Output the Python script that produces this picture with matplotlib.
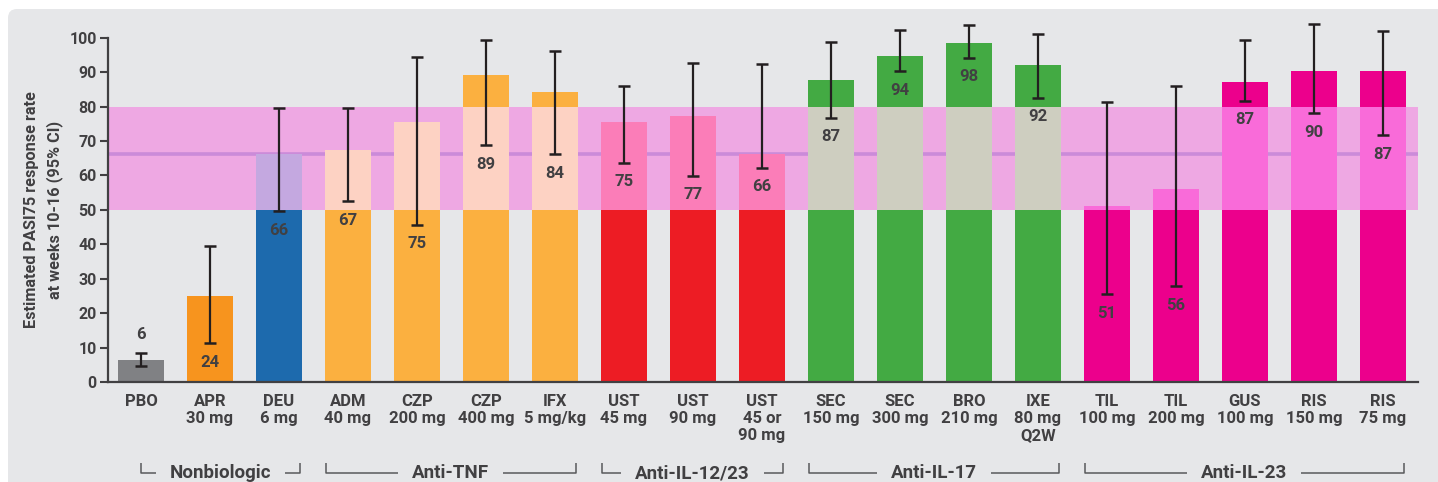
import numpy as np
import matplotlib
matplotlib.use("Agg")
import matplotlib.pyplot as plt
from matplotlib.patches import FancyBboxPatch

plt.rcParams["font.family"] = ["Liberation Sans Narrow", "Roboto", "DejaVu Sans"]
plt.rcParams["font.weight"] = "bold"

# data
treatments = ["PBO", "APR\n30 mg", "DEU\n6 mg", "ADM\n40 mg", "CZP\n200 mg",
              "CZP\n400 mg", "IFX\n5 mg/kg", "UST\n45 mg", "UST\n90 mg",
              "UST\n45 or\n90 mg", "SEC\n150 mg", "SEC\n300 mg", "BRO\n210 mg",
              "IXE\n80 mg\nQ2W", "TIL\n100 mg", "TIL\n200 mg", "GUS\n100 mg",
              "RIS\n150 mg", "RIS\n75 mg"]
bar_height = [6.5, 25.0, 66.3, 67.5, 75.5, 89.2, 84.3, 75.5, 77.2, 66.3,
              87.8, 94.8, 98.5, 92.1, 51.2, 56.2, 87.2, 90.4, 90.2]
value_text = [6, 24, 66, 67, 75, 89, 84, 75, 77, 66,
              87, 94, 98, 92, 51, 56, 87, 90, 87]
ci_low = [4.7, 11.2, 49.6, 52.5, 45.6, 68.8, 66.2, 63.6, 59.9, 62.2,
          76.7, 90.3, 94.1, 82.5, 25.5, 27.8, 81.6, 78.1, 71.7]
ci_high = [8.5, 39.4, 79.6, 79.6, 94.4, 99.3, 96.1, 86.0, 92.6, 92.3,
           98.8, 102.2, 103.8, 101.1, 81.3, 86.0, 99.3, 104.0, 102.0]

groups = ["Nonbiologic", "Anti-TNF", "Anti-IL-12/23", "Anti-IL-17", "Anti-IL-23"]
group_size = [3, 4, 3, 4, 5]

band_low, band_high = 50, 80
ref_line = 66.3

bar_colors = (["#808184", "#F7941E", "#1D6AAD"] + ["#FBB040"] * 4 + ["#ED1C24"] * 3
              + ["#43AA43"] * 4 + ["#EC008C"] * 5)
band_colors = (["#808184", "#F7941E", "#C4A8E0"] + ["#FDD2C3"] * 4 + ["#FB7DB8"] * 3
               + ["#CECEC0"] * 4 + ["#F96BD9"] * 5)

TXT = "#414042"
BG = "#E6E7E9"

fig = plt.figure(figsize=(14.38, 4.82), dpi=100)
fig.patches.append(FancyBboxPatch((0.08, -0.2), 14.6, 4.93,
                                  boxstyle="round,pad=0,rounding_size=0.09",
                                  transform=fig.dpi_scale_trans,
                                  facecolor=BG, edgecolor="none", zorder=-10))

ax = fig.add_axes([108 / 1438, 100 / 482, 1310 / 1438, 361.5 / 482])
ax.set_facecolor("none")

x = np.arange(len(treatments))
vals = np.array(bar_height)
lo = np.array(ci_low)
hi = np.array(ci_high)

ax.axhspan(band_low, band_high, color="#EEA8E3", lw=0, zorder=0)
ax.axhline(ref_line, color="#CB8BD9", lw=2.6, zorder=0.5)

ax.bar(x, vals, width=0.667, color=bar_colors, zorder=1)
inside = vals > band_low
ax.bar(x[inside], np.minimum(vals[inside], band_high) - band_low, bottom=band_low,
       width=0.667, color=np.array(band_colors)[inside], zorder=1.5)

ax.errorbar(x, vals, yerr=[vals - lo, hi - vals], fmt="none", ecolor="#231F20",
            elinewidth=1.6, capsize=4.3, capthick=1.8, zorder=5)

for xi, v, l, h, t in zip(x, vals, lo, hi, value_text):
    y = h + 5.3 if v < 10 else l - 5.5
    ax.text(xi, y, str(t), ha="center", va="center", fontsize=12,
            color=TXT, fontweight="bold", zorder=6)

ax.set_xlim(-0.478, 18.51)
ax.set_ylim(0, 105)
ax.set_yticks(np.arange(0, 101, 10))
ax.set_xticks(x)
ax.set_xticklabels(treatments, linespacing=1.15)
ax.tick_params(axis="x", length=0, pad=9, labelsize=12, labelcolor=TXT)
ax.tick_params(axis="y", length=5.8, width=1.5, pad=2.4, labelsize=11.5,
               labelcolor=TXT, color=TXT)
for lab in ax.get_xticklabels() + ax.get_yticklabels():
    lab.set_fontweight("bold")

for s in ["top", "right"]:
    ax.spines[s].set_visible(False)
for s in ["left", "bottom"]:
    ax.spines[s].set_color(TXT)
    ax.spines[s].set_linewidth(1.6)
ax.spines["left"].set_bounds(0, 100)

fig.text(43.4 / 1438, 1 - 210 / 482,
         "Estimated PASI75 response rate\nat weeks 10-16 (95% CI)",
         rotation=90, ha="center", va="center", multialignment="center",
         fontsize=11.7, color=TXT, fontweight="bold", linespacing=1.5)

# group brackets under the tick labels
line_y, tick_y, text_y = -26.4, -23.5, -28.0
fig.canvas.draw()
renderer = fig.canvas.get_renderer()
inv = ax.transData.inverted()
start = 0
for name, n in zip(groups, group_size):
    left = max(start - 0.32, 0)
    right = start + n - 1 + 0.3
    mid = (left + right) / 2
    t = ax.text(mid, text_y, name, ha="center", va="baseline", fontsize=13.5,
                color=TXT, fontweight="bold", clip_on=False)
    bb = t.get_window_extent(renderer)
    gx0 = inv.transform((bb.x0 - 14, 0))[0]
    gx1 = inv.transform((bb.x1 + 14, 0))[0]
    kw = dict(color="#58595B", lw=1.1, clip_on=False, solid_capstyle="butt")
    ax.plot([left, left, gx0], [tick_y, line_y, line_y], **kw)
    ax.plot([gx1, right, right], [line_y, line_y, tick_y], **kw)
    start += n

fig.savefig("out.png", dpi=100, facecolor="white")
